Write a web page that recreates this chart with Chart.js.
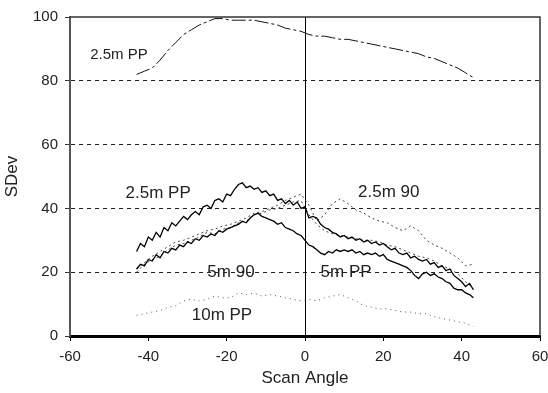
<!DOCTYPE html>
<html>
<head>
<meta charset="utf-8">
<script src="https://cdn.jsdelivr.net/npm/chart.js@4.4.1/dist/chart.umd.min.js"></script>
<style>
  html, body { margin: 0; padding: 0; background: #fff; }
</style>
</head>
<body>
<canvas id="sdevChart" width="548" height="393"></canvas>
<script>
// scan angles (degrees)
const anglesFine = [-43,-42,-41,-40,-39,-38,-37,-36,-35,-34,-33,-32,-31,-30,-29,-28,-27,-26,-25,-24,-23,-22,-21,-20,-19,-18,-17,-16,-15,-14,-13,-12,-11,-10,-9,-8,-7,-6,-5,-4,-3,-2,-1,0,1,2,3,4,5,6,7,8,9,10,11,12,13,14,15,16,17,18,19,20,21,22,23,24,25,26,27,28,29,30,31,32,33,34,35,36,37,38,39,40,41,42,43];
const anglesCoarse = [-43,-41,-39,-37,-35,-33,-31,-29,-27,-25,-23,-21,-19,-17,-15,-13,-11,-9,-7,-5,-3,-1,1,3,5,7,9,11,13,15,17,19,21,23,25,27,29,31,33,35,37,39,41,43];

// top 2.5m PP curve
const pp25Top = [82,83,84,86.5,89.5,92,94.5,96,97.5,98.5,99.5,99.5,99,99,99,99,98.5,98,97.5,96.5,96,95.5,94.5,94,94,93.5,93,93,92.5,92,91.5,91,90.5,90,89.5,89,88.5,87.5,87,86,85,84,82.5,81];

// 2.5m PP (noisy)
const pp25 = [26.5,29,28,31,30,32.5,31,34,33,35.5,34.5,36,37.5,36.5,38,39,38,40.5,41,40,42.5,43,42,44.5,44,46,47.5,48,46.5,47,46,46.5,45,45.5,44,44.5,42.5,43,41.5,42.5,41,42,40,40.5,37,37.5,37,35,34,33.5,32.5,32,31,31.5,30.5,31,30,30.5,29.5,30,29,29.5,28.5,29,28,27,27.5,26,25.5,26,24.5,25,24,23.5,24,22.5,23,21.5,22,20.5,21,19,18,17,15.5,16.5,14.5];

// 5m PP (noisy)
const pp5 = [21,22.5,22,24,23.5,25.5,24.5,26.5,26,27.5,27,28.5,28,29.5,29,30.5,30,31.5,31,32,31.5,33,32.5,33.5,34,34.5,35,36,35.5,37,38,38.5,37.5,37,36.5,36,35,35.5,34,33.5,33,32,31.5,30,28.5,28,27,26,25.5,26.5,26,27,26.5,27,26.5,27,26,26.5,25.5,26,25.5,26,25,25.5,24,23.5,23,22.5,22,21.5,20.5,19,18,19.5,20,19,19.5,18.5,18,17,16.5,15,14.5,14.5,13.5,13,12];

// 5m 90 (dotted)
const m5_90 = [20,22.5,24,25,27,28.5,29,30,31,32.5,32,33.5,34,35.5,36,38,38.5,39.5,40,41,42,42.5,38,35,33,32,31.5,31,30.5,30,30,29.5,28.5,28,27,26,25,24.5,23.5,22,21,19.5,17,15];

// 2.5m 90 (dotted)
const m25_90 = [21,23,25,26.5,28,29.5,30,31,32,33,33.5,34.5,35,36,37,38.5,39,40,41,42.5,43.5,44.5,41,36,38,41.5,43,41.5,39.5,38.5,37,36,35.5,34,33,34.5,33,30,28.5,27.5,26,24.5,22,22.5];

// 10m PP (dotted)
const pp10 = [6.5,7,7.5,8,9,9.5,11,11.5,11,11.5,12.5,12,12,13.5,13,13.5,12.5,13,12.5,12,11.5,11,11.5,11,12,12.5,13,12,11,9.5,9,8.5,8.5,8,7.5,7.5,7,7,6,5.5,5,4.5,4,3];

// axis ticks
const xTicks = [-60, -40, -20, 0, 20, 40, 60];
const yTicks = [0, 20, 40, 60, 80, 100];

// in-plot series labels (data coordinates)
const seriesLabels = [
  { text: "2.5m PP", x: -47.5, y: 88, size: 15 },
  { text: "2.5m PP", x: -37.5, y: 44.8, size: 17 },
  { text: "2.5m 90", x: 21.4, y: 45, size: 17 },
  { text: "5m 90", x: -18.9, y: 20, size: 17 },
  { text: "5m PP", x: 10.5, y: 20, size: 17 },
  { text: "10m PP", x: -21.2, y: 6.6, size: 17 }
];

const toXY = (xs, ys) => xs.map((x, i) => ({ x, y: ys[i] }));

const FONT = "'Liberation Sans', Arial, sans-serif";
const ctx = document.getElementById("sdevChart").getContext("2d");

// series name labels + top/right frame
const overlay = {
  id: "overlay",
  afterDatasetsDraw(chart) {
    const { ctx, chartArea: a, scales } = chart;
    ctx.save();
    ctx.strokeStyle = "#333";
    ctx.lineWidth = 1.5;
    ctx.beginPath();
    ctx.moveTo(a.left, a.top);
    ctx.lineTo(a.right, a.top);
    ctx.lineTo(a.right, a.bottom);
    ctx.stroke();

    ctx.fillStyle = "#222";
    ctx.textAlign = "center";
    ctx.textBaseline = "middle";
    seriesLabels.forEach(l => {
      ctx.font = l.size + "px " + FONT;
      ctx.fillText(l.text, scales.x.getPixelForValue(l.x), scales.y.getPixelForValue(l.y));
    });
    ctx.restore();
  }
};

new Chart(ctx, {
  type: "line",
  data: {
    datasets: [
      { label: "2.5m PP top", data: toXY(anglesCoarse, pp25Top), borderColor: "#111", borderWidth: 1, borderDash: [14, 3, 3, 3] },
      { label: "2.5m PP", data: toXY(anglesFine, pp25), borderColor: "#000", borderWidth: 1.3 },
      { label: "5m PP", data: toXY(anglesFine, pp5), borderColor: "#000", borderWidth: 1.3 },
      { label: "5m 90", data: toXY(anglesCoarse, m5_90), borderColor: "#444", borderWidth: 1, borderDash: [2, 3] },
      { label: "2.5m 90", data: toXY(anglesCoarse, m25_90), borderColor: "#444", borderWidth: 1, borderDash: [2, 3] },
      { label: "10m PP", data: toXY(anglesCoarse, pp10), borderColor: "#555", borderWidth: 1, borderDash: [1, 4] }
    ]
  },
  options: {
    responsive: false,
    animation: false,
    layout: { autoPadding: false, padding: { left: 0, right: 8, top: 17, bottom: 0 } },
    elements: { point: { radius: 0 }, line: { tension: 0 } },
    plugins: { legend: { display: false }, tooltip: { enabled: false } },
    scales: {
      x: {
        type: "linear",
        min: -60,
        max: 60,
        afterBuildTicks: s => { s.ticks = xTicks.map(v => ({ value: v })); },
        afterFit: s => { s.height = 57; s.paddingLeft = 0; s.paddingRight = 0; },
        grid: {
          color: c => (c.tick && c.tick.value === 0 ? "#000" : "rgba(0,0,0,0)"),
          tickColor: "#000",
          tickLength: 5,
          lineWidth: 1
        },
        border: { color: "#000", width: 3 },
        ticks: { color: "#222", font: { family: FONT, size: 15 }, padding: 7 },
        title: { display: true, text: "Scan Angle", color: "#222", font: { family: FONT, size: 17 }, padding: { top: 0, bottom: 4 } }
      },
      y: {
        min: 0,
        max: 100,
        afterBuildTicks: s => { s.ticks = yTicks.map(v => ({ value: v })); },
        afterFit: s => { s.width = 70; },
        grid: {
          color: c => (c.tick && (c.tick.value === 0 || c.tick.value === 100) ? "rgba(0,0,0,0)" : "#222"),
          tickColor: "#333",
          tickLength: 5,
          lineWidth: 1
        },
        border: { color: "#555", width: 2, dash: [4, 4] },
        ticks: { color: "#222", font: { family: FONT, size: 15 }, padding: 7 },
        title: { display: true, text: "SDev", color: "#222", font: { family: FONT, size: 17 }, padding: { top: 2, bottom: 0 } }
      }
    }
  },
  plugins: [overlay]
});
</script>
</body>
</html>
